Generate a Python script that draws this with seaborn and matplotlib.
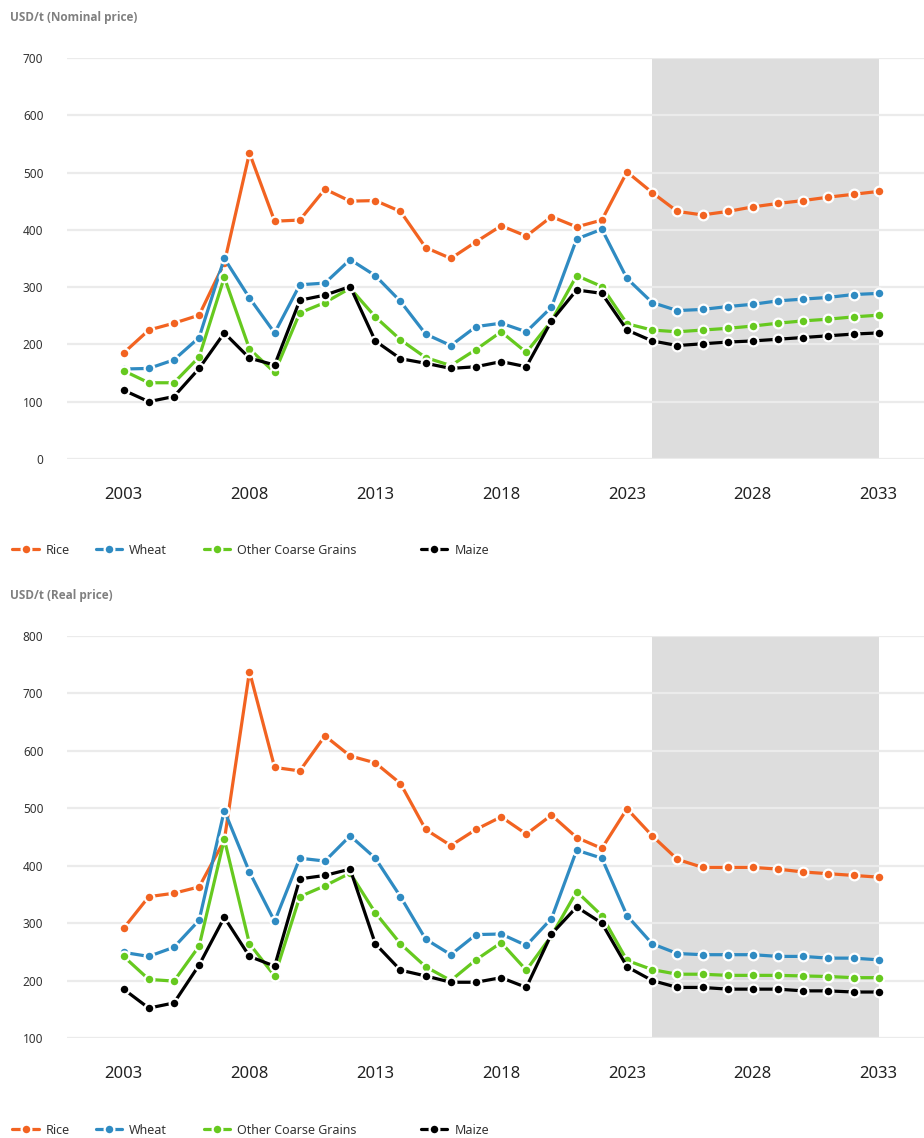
import pandas as pd
import matplotlib
matplotlib.use("Agg")
import matplotlib.pyplot as plt
import seaborn as sns
from matplotlib.lines import Line2D

years = list(range(2003, 2034))

# Nominal prices (USD/t)
rice_nom = [185, 225, 237, 251, 342, 534, 415, 417, 471, 450, 451, 432, 369, 350, 379,
            407, 389, 423, 405, 417, 501, 465, 432, 426, 432, 440, 446, 451, 457, 462, 467]
wheat_nom = [157, 158, 173, 212, 350, 281, 220, 304, 307, 348, 320, 275, 218, 198, 231,
             237, 222, 265, 384, 401, 315, 273, 259, 261, 266, 270, 276, 279, 282, 287, 289]
ocg_nom = [154, 133, 133, 178, 317, 192, 151, 255, 273, 298, 248, 208, 177, 163, 191,
           222, 186, 241, 320, 301, 236, 225, 222, 225, 228, 232, 237, 241, 244, 248, 251]
maize_nom = [120, 100, 109, 158, 220, 176, 164, 277, 286, 301, 206, 175, 167, 158, 161,
             170, 161, 241, 295, 289, 225, 206, 198, 201, 204, 206, 209, 212, 215, 218, 220]

# Real prices (USD/t)
rice_real = [291, 346, 352, 363, 444, 738, 571, 565, 626, 591, 579, 543, 463, 435, 463,
             485, 455, 488, 449, 430, 499, 452, 411, 397, 397, 397, 394, 389, 386, 383, 380]
wheat_real = [249, 242, 258, 305, 496, 389, 303, 413, 408, 452, 413, 346, 272, 245, 280,
              281, 261, 308, 427, 413, 313, 264, 247, 245, 245, 245, 242, 242, 239, 239, 236]
ocg_real = [242, 202, 199, 260, 446, 264, 208, 346, 365, 387, 318, 264, 224, 200, 236,
            266, 218, 278, 355, 313, 235, 219, 211, 211, 209, 209, 209, 208, 207, 205, 205]
maize_real = [185, 152, 161, 227, 310, 242, 225, 377, 383, 394, 264, 218, 208, 197, 197,
              205, 188, 281, 328, 300, 224, 200, 188, 188, 185, 185, 185, 182, 182, 180, 180]

series_names = ["Rice", "Wheat", "Other Coarse Grains", "Maize"]
colors = {"Rice": "#F26321", "Wheat": "#2F8BC2", "Other Coarse Grains": "#66C91F", "Maize": "#000000"}
xticks = [2003, 2008, 2013, 2018, 2023, 2028, 2033]
proj_start, proj_end = 2024, 2033

sns.set_theme(style="white")
plt.rcParams["font.family"] = ["Noto Sans", "DejaVu Sans"]


def long_df(rice, wheat, ocg, maize):
    frames = []
    for name, vals in zip(series_names, [rice, wheat, ocg, maize]):
        frames.append(pd.DataFrame({"year": years, "value": vals, "series": name}))
    return pd.concat(frames, ignore_index=True)


def draw_panel(ax, df, ylim, yticks):
    ax.axvspan(proj_start, proj_end, color="#DDDDDD", lw=0, zorder=0)
    sns.lineplot(data=df, x="year", y="value", hue="series", palette=colors,
                 hue_order=series_names, marker="o", markersize=7,
                 markeredgecolor="white", markeredgewidth=1.6, linewidth=2.3,
                 legend=False, ax=ax, zorder=3)
    ax.set_xlim(2000.75, 2034.8)
    ax.set_ylim(*ylim)
    ax.set_yticks(yticks)
    ax.set_xticks(xticks)
    ax.set_xlabel("")
    ax.set_ylabel("")
    ax.grid(axis="y", color="#EBEBEB", lw=1.6)
    ax.grid(axis="x", visible=False)
    ax.set_axisbelow(True)
    for s in ax.spines.values():
        s.set_visible(False)
    ax.tick_params(axis="y", length=0, pad=17, labelsize=8.5, labelcolor="#333333")
    ax.tick_params(axis="x", length=0, pad=20, labelsize=12, labelcolor="#222222")


def draw_legend(fig, ypos):
    xs = [0.008, 0.098, 0.215, 0.450]
    for name, x in zip(series_names, xs):
        h = Line2D([0], [0], color=colors[name], lw=2.3, marker="o", markersize=7,
                   markeredgecolor="white", markeredgewidth=1.6)
        fig.legend([h], [name], loc="center left", bbox_to_anchor=(x, ypos),
                   frameon=False, fontsize=9, handlelength=2.1, handletextpad=0.6,
                   borderaxespad=0, labelcolor="#333333")


fig = plt.figure(figsize=(9.24, 11.38), dpi=100)
ax1 = fig.add_axes([0.0725, 0.5967, 0.9275, 0.3524])
ax2 = fig.add_axes([0.0725, 0.0879, 0.9275, 0.3533])

draw_panel(ax1, long_df(rice_nom, wheat_nom, ocg_nom, maize_nom), (0, 700), range(0, 701, 100))
draw_panel(ax2, long_df(rice_real, wheat_real, ocg_real, maize_real), (100, 800), range(100, 801, 100))

title_font = ["Open Sans", "DejaVu Sans"]
fig.text(0.011, 1 - 17 / 1138, "USD/t (Nominal price)", fontsize=8.5, fontweight="bold",
         family=title_font, color="#808080", va="center", ha="left")
fig.text(0.011, 1 - 596 / 1138, "USD/t (Real price)", fontsize=8.5, fontweight="bold",
         family=title_font, color="#808080", va="center", ha="left")

draw_legend(fig, 1 - 550 / 1138)
draw_legend(fig, 1 - 1130 / 1138)

fig.savefig("out.png", dpi=100)
